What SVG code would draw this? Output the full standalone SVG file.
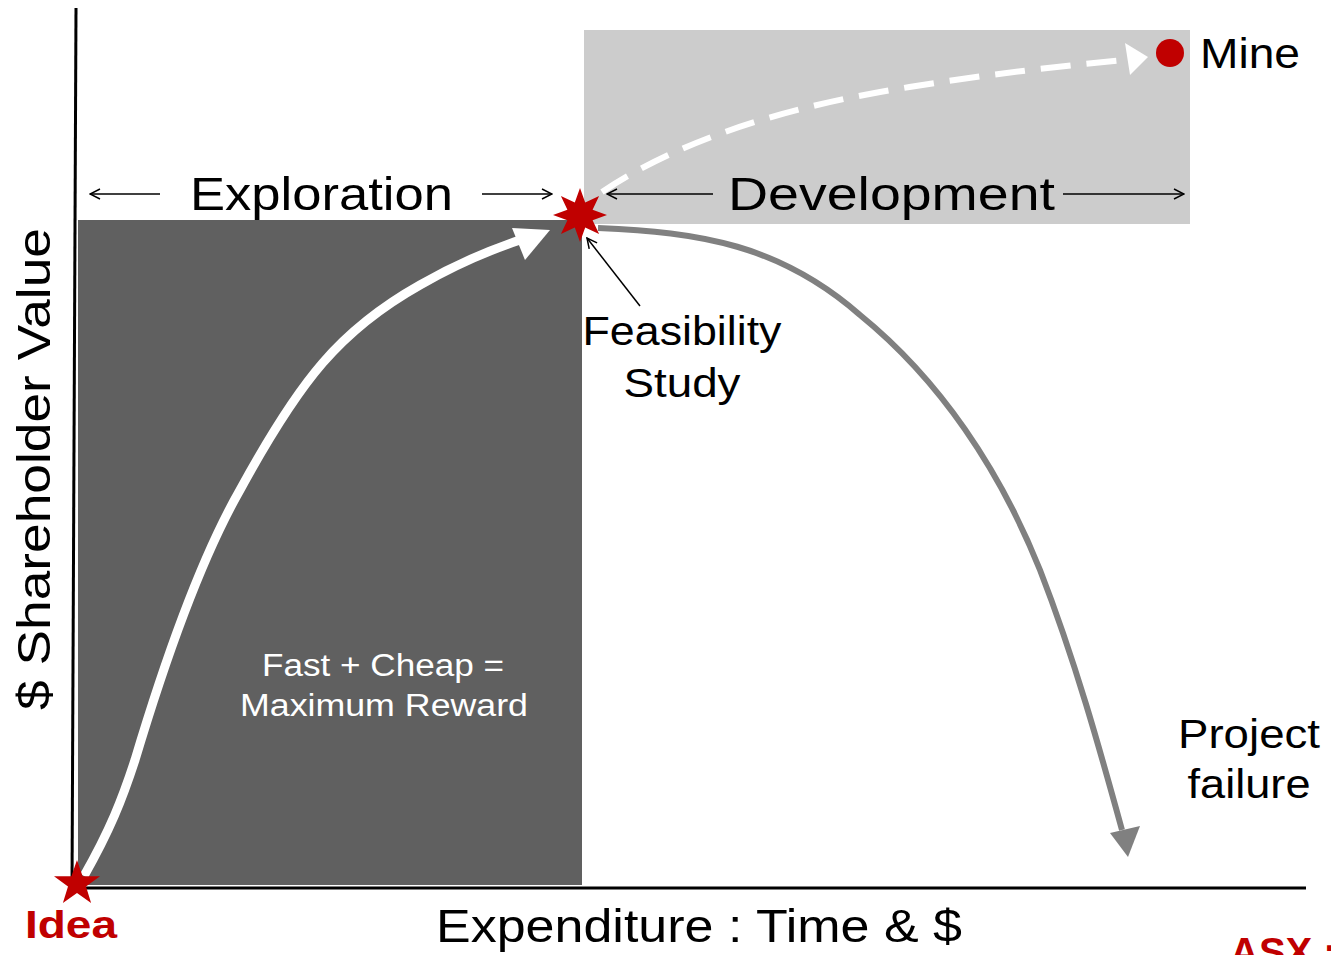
<svg xmlns="http://www.w3.org/2000/svg" width="1331" height="955" viewBox="0 0 1331 955">
<defs>
<style>
text{font-family:"Liberation Sans","DejaVu Sans",sans-serif;fill:#000}
.lbl{font-size:46px}
.thin{stroke:#000;stroke-width:1.5;fill:none}
</style>
<marker id="open" viewBox="0 0 12 12" refX="11" refY="6" markerWidth="12" markerHeight="12" markerUnits="userSpaceOnUse" orient="auto">
<path d="M1,1 L11,6 L1,11" fill="none" stroke="#000" stroke-width="1.5"/>
</marker>
</defs>
<rect width="1331" height="955" fill="#fff"/>
<g id="development-area"><rect x="584" y="30" width="606" height="194" fill="#cccccc"/></g>
<g id="exploration-area"><rect x="78" y="220" width="504" height="665" fill="#606060"/>
<text x="383" y="676" text-anchor="middle" font-size="31" style="fill:#fff" textLength="242" lengthAdjust="spacingAndGlyphs">Fast + Cheap =</text>
<text x="384" y="716" text-anchor="middle" font-size="31" style="fill:#fff" textLength="288" lengthAdjust="spacingAndGlyphs">Maximum Reward</text>
</g>
<g id="axes">
<line x1="76" y1="8" x2="72" y2="888" stroke="#000" stroke-width="3"/>
<line x1="72" y1="888" x2="1306" y2="888" stroke="#000" stroke-width="3"/>
<text x="436" y="942" class="lbl" textLength="526" lengthAdjust="spacingAndGlyphs">Expenditure : Time &amp; $</text>
<text transform="translate(50,710) rotate(-90)" x="0" y="0" font-size="46" textLength="482" lengthAdjust="spacingAndGlyphs">$ Shareholder Value</text>
</g>
<g id="connectors">
<path d="M84,876 C110,830 122,800 135,760 C165,660 200,560 240,490 C300,380 340,330 420,285 C460,262 490,250 520,240" fill="none" stroke="#fff" stroke-width="9"/>
<polygon points="550,230 512,228 525,260" fill="#fff"/>
<path d="M598,228 C700,232 780,245 860,315 C940,380 1000,470 1040,570 C1075,660 1100,750 1122,830" fill="none" stroke="#808080" stroke-width="6"/>
<polygon points="1128,857 1110,833 1140,826" fill="#808080"/>
<path d="M602,192 C680,140 780,110 880,92 C960,78 1040,68 1125,60" fill="none" stroke="#fff" stroke-width="6" stroke-dasharray="30,16"/>
<polygon points="1148,57 1125,43 1130,75" fill="#fff"/>
<line x1="160" y1="194" x2="90" y2="194" class="thin" marker-end="url(#open)"/>
<line x1="482" y1="194" x2="552" y2="194" class="thin" marker-end="url(#open)"/>
<line x1="713" y1="194" x2="607" y2="194" class="thin" marker-end="url(#open)"/>
<line x1="1063" y1="194" x2="1184" y2="194" class="thin" marker-end="url(#open)"/>
<line x1="640" y1="306" x2="587" y2="238" class="thin" marker-end="url(#open)"/>
</g>
<g id="exploration-label"><text x="190" y="210" class="lbl" textLength="263" lengthAdjust="spacingAndGlyphs">Exploration</text></g>
<g id="development-label"><text x="728" y="210" class="lbl" textLength="327" lengthAdjust="spacingAndGlyphs">Development</text></g>
<g id="feasibility">
<polygon fill="#c00000" points="580,188 585.2,202.4 599.1,195.9 592.6,209.8 607,215 592.6,220.2 599.1,234.1 585.2,227.6 580,242 574.8,227.6 560.9,234.1 567.4,220.2 553,215 567.4,209.8 560.9,195.9 574.8,202.4"/>
<text x="682" y="345" text-anchor="middle" font-size="41" textLength="199" lengthAdjust="spacingAndGlyphs">Feasibility</text>
<text x="682" y="397" text-anchor="middle" font-size="41" textLength="117" lengthAdjust="spacingAndGlyphs">Study</text>
</g>
<g id="idea">
<polygon fill="#c00000" points="77,860 82.6,876.3 100,876.3 86,886.6 91.1,903 77,893 62.9,903 68,886.6 54,876.3 71.4,876.3"/>
<text x="25" y="938" font-size="38" font-weight="bold" style="fill:#c00000" textLength="92" lengthAdjust="spacingAndGlyphs">Idea</text>
</g>
<g id="mine">
<circle cx="1170" cy="53" r="14" fill="#c00000"/>
<text x="1200" y="68" font-size="42" textLength="100" lengthAdjust="spacingAndGlyphs">Mine</text>
</g>
<g id="project-failure">
<text x="1249" y="748" text-anchor="middle" font-size="41" textLength="142" lengthAdjust="spacingAndGlyphs">Project</text>
<text x="1249" y="798" text-anchor="middle" font-size="41" textLength="123" lengthAdjust="spacingAndGlyphs">failure</text>
</g>
<g id="asx"><text x="1230" y="966" font-size="40" font-weight="bold" style="fill:#c00000">ASX :</text></g>
</svg>
